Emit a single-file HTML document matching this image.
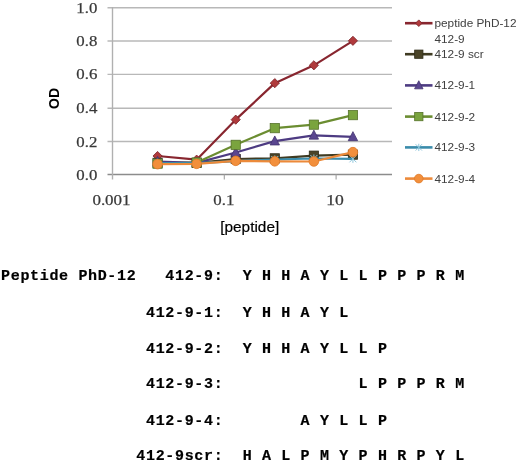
<!DOCTYPE html>
<html><head><meta charset="utf-8"><style>
html,body{margin:0;padding:0;background:#fff;}
body{width:520px;height:464px;overflow:hidden;position:relative;}
svg{position:absolute;left:0;top:0;will-change:transform;}
.tl{font-family:"Liberation Serif",serif;font-size:15.5px;fill:#383838;stroke:#383838;stroke-width:0.25px;}
.lg{font-family:"Liberation Sans",sans-serif;font-size:11.8px;fill:#404040;}
.at{font-family:"Liberation Sans",sans-serif;font-size:15.4px;fill:#000;stroke:#000;stroke-width:0.2px;}
.od{font-family:"Liberation Sans",sans-serif;font-size:14px;font-weight:bold;fill:#000;}
.mono{font-family:"Liberation Mono",monospace;font-size:15px;letter-spacing:0.66px;font-weight:bold;fill:#000;stroke:#000;stroke-width:0.2px;white-space:pre;}
</style></head><body>
<svg width="520" height="464" viewBox="0 0 520 464">
<line x1="107.5" y1="141.50" x2="392" y2="141.50" stroke="#b8b8b8" stroke-width="1.4"/>
<line x1="107.5" y1="108.30" x2="392" y2="108.30" stroke="#b8b8b8" stroke-width="1.4"/>
<line x1="107.5" y1="74.40" x2="392" y2="74.40" stroke="#b8b8b8" stroke-width="1.4"/>
<line x1="107.5" y1="41.00" x2="392" y2="41.00" stroke="#b8b8b8" stroke-width="1.4"/>
<line x1="107.5" y1="7.80" x2="392" y2="7.80" stroke="#b8b8b8" stroke-width="1.4"/>
<line x1="107.5" y1="174.50" x2="392" y2="174.50" stroke="#8c8c8c" stroke-width="1.3"/>
<line x1="112.50" y1="7" x2="112.50" y2="179.50" stroke="#b0b0b0" stroke-width="1.4"/>
<line x1="224.30" y1="174.50" x2="224.30" y2="179.50" stroke="#a0a0a0" stroke-width="1.1"/>
<line x1="336.10" y1="174.50" x2="336.10" y2="179.50" stroke="#a0a0a0" stroke-width="1.1"/>
<text x="97.3" y="179.50" text-anchor="end" class="tl" textLength="21" lengthAdjust="spacingAndGlyphs">0.0</text>
<text x="97.3" y="146.50" text-anchor="end" class="tl" textLength="21" lengthAdjust="spacingAndGlyphs">0.2</text>
<text x="97.3" y="113.30" text-anchor="end" class="tl" textLength="21" lengthAdjust="spacingAndGlyphs">0.4</text>
<text x="97.3" y="79.40" text-anchor="end" class="tl" textLength="21" lengthAdjust="spacingAndGlyphs">0.6</text>
<text x="97.3" y="46.00" text-anchor="end" class="tl" textLength="21" lengthAdjust="spacingAndGlyphs">0.8</text>
<text x="97.3" y="12.80" text-anchor="end" class="tl" textLength="21" lengthAdjust="spacingAndGlyphs">1.0</text>
<text x="111.50" y="204.8" text-anchor="middle" class="tl" textLength="38.2" lengthAdjust="spacingAndGlyphs">0.001</text>
<text x="223.80" y="204.8" text-anchor="middle" class="tl" textLength="21.1" lengthAdjust="spacingAndGlyphs">0.1</text>
<text x="335.10" y="204.8" text-anchor="middle" class="tl" textLength="17.6" lengthAdjust="spacingAndGlyphs">10</text>
<polyline points="157.57,156.00 196.64,159.66 235.71,119.66 274.78,83.15 313.86,65.31 352.93,40.81" fill="none" stroke="#88262f" stroke-width="2.2" stroke-linejoin="round"/>
<path d="M157.57 151.40L162.17 156.00L157.57 160.60L152.97 156.00Z" fill="#b03a3c" stroke="#7a2228" stroke-width="0.8"/>
<path d="M196.64 155.06L201.24 159.66L196.64 164.26L192.04 159.66Z" fill="#b03a3c" stroke="#7a2228" stroke-width="0.8"/>
<path d="M235.71 115.06L240.31 119.66L235.71 124.26L231.11 119.66Z" fill="#b03a3c" stroke="#7a2228" stroke-width="0.8"/>
<path d="M274.78 78.55L279.38 83.15L274.78 87.75L270.18 83.15Z" fill="#b03a3c" stroke="#7a2228" stroke-width="0.8"/>
<path d="M313.86 60.71L318.46 65.31L313.86 69.91L309.26 65.31Z" fill="#b03a3c" stroke="#7a2228" stroke-width="0.8"/>
<path d="M352.93 36.21L357.53 40.81L352.93 45.41L348.33 40.81Z" fill="#b03a3c" stroke="#7a2228" stroke-width="0.8"/>
<polyline points="157.57,162.83 196.64,162.83 235.71,159.00 274.78,158.33 313.86,155.66 352.93,154.66" fill="none" stroke="#3f3b22" stroke-width="2.2" stroke-linejoin="round"/>
<rect x="152.97" y="158.23" width="9.20" height="9.20" fill="#4a4428" stroke="#2f2c18" stroke-width="0.8"/>
<rect x="192.04" y="158.23" width="9.20" height="9.20" fill="#4a4428" stroke="#2f2c18" stroke-width="0.8"/>
<rect x="231.11" y="154.40" width="9.20" height="9.20" fill="#4a4428" stroke="#2f2c18" stroke-width="0.8"/>
<rect x="270.18" y="153.73" width="9.20" height="9.20" fill="#4a4428" stroke="#2f2c18" stroke-width="0.8"/>
<rect x="309.26" y="151.06" width="9.20" height="9.20" fill="#4a4428" stroke="#2f2c18" stroke-width="0.8"/>
<rect x="348.33" y="150.06" width="9.20" height="9.20" fill="#4a4428" stroke="#2f2c18" stroke-width="0.8"/>
<polyline points="157.57,161.50 196.64,162.83 235.71,152.50 274.78,141.16 313.86,135.33 352.93,136.83" fill="none" stroke="#4d3b82" stroke-width="2.2" stroke-linejoin="round"/>
<path d="M157.57 156.30L162.27 165.30L152.87 165.30Z" fill="#5a4690" stroke="#43336f" stroke-width="0.8"/>
<path d="M196.64 157.63L201.34 166.63L191.94 166.63Z" fill="#5a4690" stroke="#43336f" stroke-width="0.8"/>
<path d="M235.71 147.30L240.41 156.30L231.01 156.30Z" fill="#5a4690" stroke="#43336f" stroke-width="0.8"/>
<path d="M274.78 135.96L279.48 144.96L270.08 144.96Z" fill="#5a4690" stroke="#43336f" stroke-width="0.8"/>
<path d="M313.86 130.13L318.56 139.13L309.16 139.13Z" fill="#5a4690" stroke="#43336f" stroke-width="0.8"/>
<path d="M352.93 131.63L357.63 140.63L348.23 140.63Z" fill="#5a4690" stroke="#43336f" stroke-width="0.8"/>
<polyline points="157.57,163.66 196.64,162.50 235.71,144.83 274.78,128.16 313.86,124.66 352.93,115.15" fill="none" stroke="#6b8d31" stroke-width="2.2" stroke-linejoin="round"/>
<rect x="152.97" y="159.06" width="9.20" height="9.20" fill="#7aa43e" stroke="#56722a" stroke-width="0.8"/>
<rect x="192.04" y="157.90" width="9.20" height="9.20" fill="#7aa43e" stroke="#56722a" stroke-width="0.8"/>
<rect x="231.11" y="140.23" width="9.20" height="9.20" fill="#7aa43e" stroke="#56722a" stroke-width="0.8"/>
<rect x="270.18" y="123.56" width="9.20" height="9.20" fill="#7aa43e" stroke="#56722a" stroke-width="0.8"/>
<rect x="309.26" y="120.06" width="9.20" height="9.20" fill="#7aa43e" stroke="#56722a" stroke-width="0.8"/>
<rect x="348.33" y="110.55" width="9.20" height="9.20" fill="#7aa43e" stroke="#56722a" stroke-width="0.8"/>
<polyline points="157.57,163.16 196.64,163.16 235.71,161.16 274.78,159.50 313.86,158.50 352.93,158.83" fill="none" stroke="#3a8cab" stroke-width="2.2" stroke-linejoin="round"/>
<path d="M154.07 159.66L161.07 166.66M161.07 159.66L154.07 166.66M157.57 159.16L157.57 167.16" stroke="#8fc6dc" stroke-width="1" fill="none"/>
<path d="M193.14 159.66L200.14 166.66M200.14 159.66L193.14 166.66M196.64 159.16L196.64 167.16" stroke="#8fc6dc" stroke-width="1" fill="none"/>
<path d="M232.21 157.66L239.21 164.66M239.21 157.66L232.21 164.66M235.71 157.16L235.71 165.16" stroke="#8fc6dc" stroke-width="1" fill="none"/>
<path d="M271.28 156.00L278.28 163.00M278.28 156.00L271.28 163.00M274.78 155.50L274.78 163.50" stroke="#8fc6dc" stroke-width="1" fill="none"/>
<path d="M310.36 155.00L317.36 162.00M317.36 155.00L310.36 162.00M313.86 154.50L313.86 162.50" stroke="#8fc6dc" stroke-width="1" fill="none"/>
<path d="M349.43 155.33L356.43 162.33M356.43 155.33L349.43 162.33M352.93 154.83L352.93 162.83" stroke="#8fc6dc" stroke-width="1" fill="none"/>
<polyline points="157.57,164.16 196.64,163.83 235.71,160.83 274.78,161.33 313.86,161.50 352.93,152.16" fill="none" stroke="#ec8a3a" stroke-width="2.2" stroke-linejoin="round"/>
<circle cx="157.57" cy="164.16" r="4.80" fill="#f28f3c" stroke="#e07a28" stroke-width="0.8"/>
<circle cx="196.64" cy="163.83" r="4.80" fill="#f28f3c" stroke="#e07a28" stroke-width="0.8"/>
<circle cx="235.71" cy="160.83" r="4.80" fill="#f28f3c" stroke="#e07a28" stroke-width="0.8"/>
<circle cx="274.78" cy="161.33" r="4.80" fill="#f28f3c" stroke="#e07a28" stroke-width="0.8"/>
<circle cx="313.86" cy="161.50" r="4.80" fill="#f28f3c" stroke="#e07a28" stroke-width="0.8"/>
<circle cx="352.93" cy="152.16" r="4.80" fill="#f28f3c" stroke="#e07a28" stroke-width="0.8"/>
<line x1="405" y1="23.2" x2="432.5" y2="23.2" stroke="#88262f" stroke-width="2.6"/>
<path d="M418.80 19.89L422.11 23.20L418.80 26.51L415.49 23.20Z" fill="#b03a3c" stroke="#7a2228" stroke-width="0.8"/>
<text x="434.5" y="27.10" class="lg">peptide PhD-12</text>
<line x1="405" y1="54.2" x2="432.5" y2="54.2" stroke="#3f3b22" stroke-width="2.6"/>
<rect x="414.66" y="50.06" width="8.28" height="8.28" fill="#4a4428" stroke="#2f2c18" stroke-width="0.8"/>
<text x="434.5" y="58.10" class="lg">412-9 scr</text>
<line x1="405" y1="85.4" x2="432.5" y2="85.4" stroke="#4d3b82" stroke-width="2.6"/>
<path d="M418.80 80.72L423.03 88.82L414.57 88.82Z" fill="#5a4690" stroke="#43336f" stroke-width="0.8"/>
<text x="434.5" y="89.30" class="lg">412-9-1</text>
<line x1="405" y1="116.6" x2="432.5" y2="116.6" stroke="#6b8d31" stroke-width="2.6"/>
<rect x="414.66" y="112.46" width="8.28" height="8.28" fill="#7aa43e" stroke="#56722a" stroke-width="0.8"/>
<text x="434.5" y="120.50" class="lg">412-9-2</text>
<line x1="405" y1="147.4" x2="432.5" y2="147.4" stroke="#3a8cab" stroke-width="2.6"/>
<path d="M415.65 144.25L421.95 150.55M421.95 144.25L415.65 150.55M418.80 143.75L418.80 151.05" stroke="#8fc6dc" stroke-width="1" fill="none"/>
<text x="434.5" y="151.30" class="lg">412-9-3</text>
<line x1="405" y1="178.6" x2="432.5" y2="178.6" stroke="#ec8a3a" stroke-width="2.6"/>
<circle cx="418.80" cy="178.60" r="4.32" fill="#f28f3c" stroke="#e07a28" stroke-width="0.8"/>
<text x="434.5" y="182.50" class="lg">412-9-4</text>
<text x="434.5" y="42.7" class="lg">412-9</text>
<text x="249.7" y="232" text-anchor="middle" class="at">[peptide]</text>
<text transform="translate(58.9 98.5) rotate(-90)" text-anchor="middle" class="od">OD</text>
<text x="1.1" y="280" class="mono" xml:space="preserve">Peptide PhD-12   412-9:  Y H H A Y L L P P P R M</text>
<text x="1.1" y="317" class="mono" xml:space="preserve">               412-9-1:  Y H H A Y L</text>
<text x="1.1" y="352.5" class="mono" xml:space="preserve">               412-9-2:  Y H H A Y L L P</text>
<text x="1.1" y="388.1" class="mono" xml:space="preserve">               412-9-3:              L P P P R M</text>
<text x="1.1" y="424.8" class="mono" xml:space="preserve">               412-9-4:        A Y L L P</text>
<text x="1.1" y="460.4" class="mono" xml:space="preserve">              412-9scr:  H A L P M Y P H R P Y L</text>
</svg>
</body></html>
